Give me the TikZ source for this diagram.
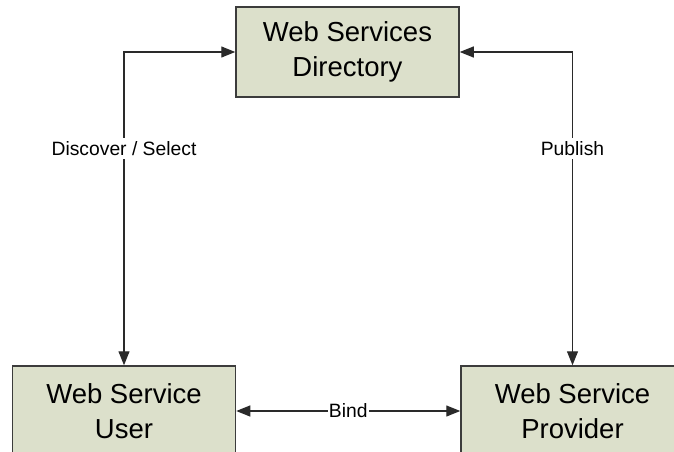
\documentclass[tikz,border=0pt]{standalone}
\usepackage{fontspec}
\setmainfont{Liberation Sans}
\usetikzlibrary{arrows.meta}
\definecolor{boxfill}{HTML}{DCE0CB}
\definecolor{boxline}{HTML}{3C3C3C}
\definecolor{conline}{HTML}{2A2A2A}
\begin{document}
\begin{tikzpicture}[x=1pt,y=-1pt,
  wsbox/.style={draw=boxline, line width=1.5pt, fill=boxfill, minimum width=223pt, minimum height=90pt,
    inner sep=0pt, align=center, font=\fontsize{27.5}{35}\selectfont},
  conn/.style={draw=conline, line width=1.2pt, {Triangle[length=14pt,width=11pt]}-{Triangle[length=14pt,width=11pt]}},
  lbl/.style={fill=white, inner sep=3pt, font=\fontsize{19.3}{22}\selectfont, text=black}]
\useasboundingbox (0,0) rectangle (674,452);
\clip (0,0) rectangle (674,452);
\node[wsbox] (dir) at (347.5,52) {Web Services\\Directory};
\node[wsbox] (user) at (124,411) {Web Service\\User};
\node[wsbox] (prov) at (572.5,411) {Web Service\\Provider};
\draw[conn] (dir.west) -| node[lbl, pos=0.654] {Discover / Select} (user.north);
\draw[conn] (dir.east) -| node[lbl, pos=0.654] {Publish} (prov.north);
\draw[conn] (user.east) -- node[lbl, inner sep=1pt] {Bind} (prov.west);
\end{tikzpicture}
\end{document}
